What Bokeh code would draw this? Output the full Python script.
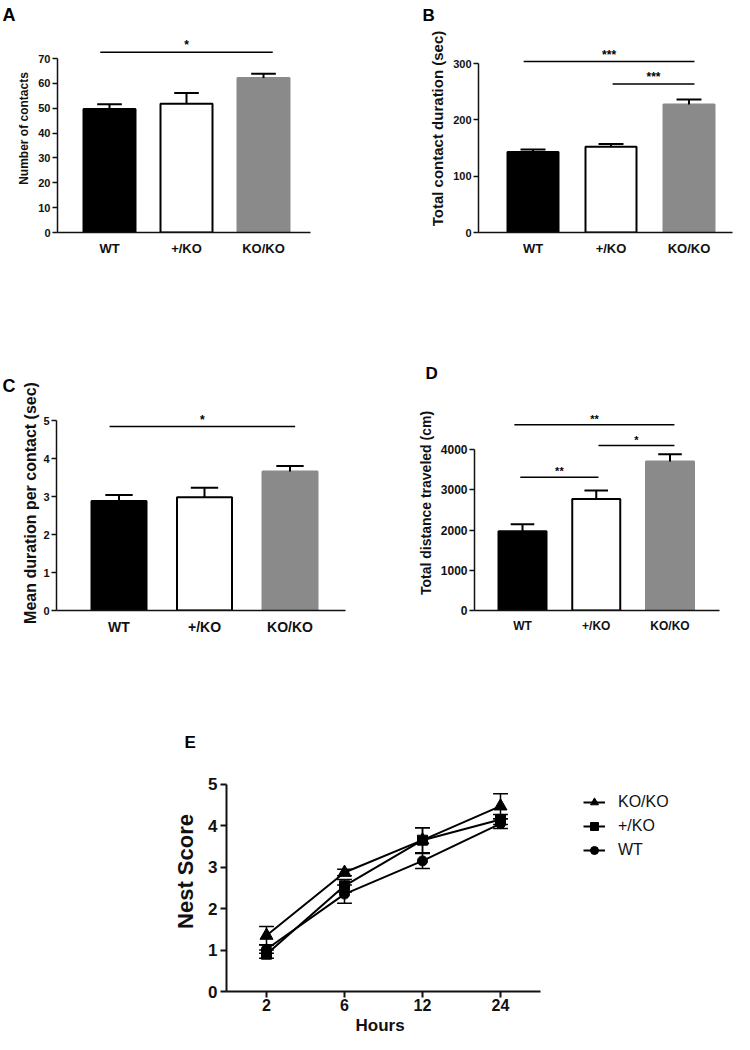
import numpy as np
from bokeh.plotting import figure
from bokeh.models import Range1d, FixedTicker, Legend, LegendItem, Title
from bokeh.layouts import column, row
from bokeh.embed import file_html
from bokeh.resources import INLINE
from bokeh.core.properties import value

FONT = "Liberation Sans"

# ---------------- data ----------------
groups = ["WT", "+/KO", "KO/KO"]
bar_fill = ["black", "white", "#8a8a8a"]
bar_line = ["black", "black", "#8a8a8a"]

a_mean = [49.7, 51.8, 62.2]
a_sem = [1.9, 4.3, 1.7]
a_ticks = [0, 10, 20, 30, 40, 50, 60, 70]
a_sig_x0 = [-0.12]
a_sig_x1 = [2.12]
a_sig_y = [72.5]
a_sig_txt = ["*"]

b_mean = [143, 152, 227]
b_sem = [4.5, 5.0, 9.0]
b_ticks = [0, 100, 200, 300]
b_sig_x0 = [-0.12, 1.02]
b_sig_x1 = [2.07, 2.07]
b_sig_y = [303.5, 263.4]
b_sig_txt = ["***", "***"]

c_mean = [2.88, 2.98, 3.66]
c_sem = [0.16, 0.25, 0.14]
c_ticks = [0, 1, 2, 3, 4, 5]
c_sig_x0 = [-0.11]
c_sig_x1 = [2.06]
c_sig_y = [4.84]
c_sig_txt = ["*"]

d_mean = [1970, 2770, 3700]
d_sem = [170, 210, 180]
d_ticks = [0, 1000, 2000, 3000, 4000]
d_sig_x0 = [-0.11, 1.03, -0.03]
d_sig_x1 = [2.06, 2.06, 1.03]
d_sig_y = [4617, 4099, 3309]
d_sig_txt = ["**", "*", "**"]

hours = ["2", "6", "12", "24"]
e_ticks = [0, 1, 2, 3, 4, 5]
e_ko_mean = [1.35, 2.87, 3.65, 4.47]
e_ko_sem = [0.22, 0.08, 0.30, 0.30]
e_het_mean = [0.90, 2.55, 3.65, 4.15]
e_het_sem = [0.10, 0.15, 0.30, 0.12]
e_wt_mean = [1.02, 2.35, 3.15, 4.05]
e_wt_sem = [0.10, 0.22, 0.18, 0.12]


def base_fig(ox, oy, W, H, fl, fr, ft, fb, xr, yr, letter, letter_left, letter_size,
             letter_standoff):
    p = figure(width=W, height=H, x_range=Range1d(*xr), y_range=Range1d(*yr),
               output_backend="svg", toolbar_location=None,
               min_border_left=fl - ox, min_border_right=ox + W - fr,
               min_border_top=ft - oy, min_border_bottom=oy + H - fb)
    p.xgrid.visible = False
    p.ygrid.visible = False
    p.outline_line_color = None
    p.background_fill_color = "white"
    p.border_fill_color = "white"
    p.title.text = letter
    p.title.align = "left"
    p.title.offset = letter_left - fl
    p.title.standoff = letter_standoff
    p.title.text_font = FONT
    p.title.text_font_style = "bold"
    p.title.text_font_size = f"{letter_size}px"
    p.title.text_color = "black"
    return p


def bar_panel(ox, oy, W, H, fl, fr, ft, fb, c0, d, ymax, ymax_px, yticks,
              mean, sem, sx0, sx1, sy, stxt, ylabel, ylabel_size, tick_size,
              cat_size, letter, letter_left, letter_size, letter_standoff,
              bar_w_px, cap_half, lab_standoff, star_size):
    s = (fb - ymax_px) / ymax
    xr = ((fl - c0) / d, (fr - c0) / d)
    yr = (0, (fb - ft) / s)
    p = base_fig(ox, oy, W, H, fl, fr, ft, fb, xr, yr, letter, letter_left,
                 letter_size, letter_standoff)
    idx = list(range(len(groups)))
    bw = bar_w_px / d
    p.vbar(x=idx, top=mean, width=bw, bottom=0, fill_color=bar_fill,
           line_color=bar_line, line_width=2)
    tops = [m + e for m, e in zip(mean, sem)]
    p.segment(x0=idx, y0=mean, x1=idx, y1=tops, line_color="black", line_width=2)
    p.segment(x0=[i - cap_half for i in idx], x1=[i + cap_half for i in idx],
              y0=tops, y1=tops, line_color="black", line_width=2)
    p.segment(x0=sx0, x1=sx1, y0=sy, y1=sy, line_color="black", line_width=1.5)
    p.text(x=[(a + b) / 2 for a, b in zip(sx0, sx1)], y=sy, text=stxt,
           text_align="center", text_baseline="bottom",
           text_font=value(FONT), text_font_style="bold",
           text_font_size=f"{star_size}px", text_color="black")
    for ax in (p.xaxis[0], p.yaxis[0]):
        ax.axis_line_width = 1.5
        ax.axis_line_color = "#111111"
        ax.major_tick_line_width = 1.5
        ax.major_tick_line_color = "#111111"
        ax.minor_tick_line_color = None
        ax.major_label_text_font = FONT
        ax.major_label_text_font_style = "bold"
        ax.major_label_text_color = "#111111"
    p.xaxis.ticker = FixedTicker(ticks=idx)
    p.xaxis.major_label_overrides = {i: g for i, g in enumerate(groups)}
    p.xaxis.major_tick_out = 0
    p.xaxis.major_tick_in = 0
    p.xaxis.major_label_standoff = 8
    p.xaxis.major_label_text_font_size = f"{cat_size}px"
    p.yaxis.ticker = FixedTicker(ticks=yticks)
    p.yaxis.bounds = (0, ymax)
    p.yaxis.major_tick_out = 5
    p.yaxis.major_tick_in = 0
    p.yaxis.major_label_standoff = 2
    p.yaxis.major_label_text_font_size = f"{tick_size}px"
    p.yaxis.axis_label = ylabel
    p.yaxis.axis_label_text_font = FONT
    p.yaxis.axis_label_text_font_style = "bold"
    p.yaxis.axis_label_text_font_size = f"{ylabel_size}px"
    p.yaxis.axis_label_text_color = "#111111"
    p.yaxis.axis_label_standoff = lab_standoff
    return p


# row 1: canvas 8..352 ; frames 32..240
pA = bar_panel(8, 8, 372, 344, 65, 318, 32, 240, 117, 77, 70, 66, a_ticks,
               a_mean, a_sem, a_sig_x0, a_sig_x1, a_sig_y, a_sig_txt,
               "Number of contacts", 12, 11, 13, "A", 10, 18, 0, 52, 0.16, 4, 12)
pB = bar_panel(380, 8, 362, 344, 486, 740, 32, 240, 540.5, 78, 300, 71, b_ticks,
               b_mean, b_sem, b_sig_x0, b_sig_x1, b_sig_y, b_sig_txt,
               "Total contact duration (sec)", 15, 11, 13, "B", 430, 17, 0, 51, 0.16, 4, 12)
# row 2: canvas 352..690 ; frames 403..618
pC = bar_panel(8, 352, 372, 338, 64, 353, 403, 618, 126.5, 85.5, 5, 428, c_ticks,
               c_mean, c_sem, c_sig_x0, c_sig_x1, c_sig_y, c_sig_txt,
               "Mean duration per contact (sec)", 16, 11, 14, "C", 10, 18, 0, 55, 0.16, 1, 12)
pD = bar_panel(380, 352, 362, 338, 482, 727, 403, 618, 530, 73.75, 4000, 457, d_ticks,
               d_mean, d_sem, d_sig_x0, d_sig_x1, d_sig_y, d_sig_txt,
               "Total distance traveled (cm)", 14, 12, 12, "D", 433, 17, 26, 48, 0.16, 4, 11)

# ---------------- panel E ----------------
ox, oy, W, H = 8, 690, 734, 352
fl, fr, ft, fb = 234, 740, 759, 1001
c0, d = 274, 78
axis_right = 548
s = (fb - 792) / 5
pE = base_fig(ox, oy, W, H, fl, fr, ft, fb, ((fl - c0) / d, (fr - c0) / d),
              (0, (fb - ft) / s), "E", 192, 17, 0)
xi = list(range(len(hours)))
series = [
    ("KO/KO", e_ko_mean, e_ko_sem, "triangle", 13),
    ("+/KO", e_het_mean, e_het_sem, "square", 10),
    ("WT", e_wt_mean, e_wt_sem, "circle", 10),
]
items = []
cap = 0.095
for name, m, e, mk, sz in reversed(series):
    lo = [a - b for a, b in zip(m, e)]
    hi = [a + b for a, b in zip(m, e)]
    pE.segment(x0=xi, x1=xi, y0=lo, y1=hi, line_color="black", line_width=1.5)
    pE.segment(x0=[i - cap for i in xi], x1=[i + cap for i in xi], y0=hi, y1=hi,
               line_color="black", line_width=1.5)
    pE.segment(x0=[i - cap for i in xi], x1=[i + cap for i in xi], y0=lo, y1=lo,
               line_color="black", line_width=1.5)
    lr = pE.line(x=xi, y=m, line_color="black", line_width=2)
    sr = pE.scatter(x=xi, y=m, marker=mk, size=sz, fill_color="black", line_color="black")
    items.append((name, [lr, sr]))
order = {"KO/KO": 0, "+/KO": 1, "WT": 2}
items.sort(key=lambda t: order[t[0]])
legend = Legend(items=[LegendItem(label=n, renderers=r) for n, r in items],
                location=(591 - fl, fb - 870), border_line_color=None,
                background_fill_alpha=0,
                label_text_font=FONT, label_text_font_size="16px", label_text_color="#111111",
                glyph_width=22, glyph_height=20, label_height=20, spacing=4,
                padding=5, margin=0, label_standoff=13)
pE.add_layout(legend)

for ax in (pE.xaxis[0], pE.yaxis[0]):
    ax.axis_line_width = 2
    ax.axis_line_color = "#111111"
    ax.major_tick_line_width = 2
    ax.major_tick_line_color = "#111111"
    ax.minor_tick_line_color = None
    ax.major_tick_out = 6
    ax.major_tick_in = 0
    ax.major_label_text_font = FONT
    ax.major_label_text_font_style = "bold"
    ax.major_label_text_color = "#111111"
    ax.major_label_text_font_size = "17px"
    ax.axis_label_text_font = FONT
    ax.axis_label_text_font_style = "bold"
    ax.axis_label_text_color = "#111111"
pE.xaxis.ticker = FixedTicker(ticks=xi)
pE.xaxis.bounds = ((fl - c0) / d, (axis_right - c0) / d)
pE.xaxis.major_label_overrides = {i: h for i, h in enumerate(hours)}
pE.xaxis.major_label_standoff = 1
pE.xaxis.major_label_text_font_size = "16px"
pE.yaxis.ticker = FixedTicker(ticks=e_ticks)
pE.yaxis.bounds = (0, 5)
pE.yaxis.major_label_standoff = 3
pE.yaxis.axis_label = "Nest Score"
pE.yaxis.axis_label_text_font_size = "22px"
pE.yaxis.axis_label_standoff = 7
pE.add_layout(Title(text="Hours", align="left", offset=363 - fl, standoff=0,
                    text_font=FONT, text_font_style="bold", text_font_size="17px",
                    text_color="#111111"), "below")

layout = column(row(pA, pB), row(pC, pD), pE)
open("out.html", "w").write(file_html(layout, INLINE))
